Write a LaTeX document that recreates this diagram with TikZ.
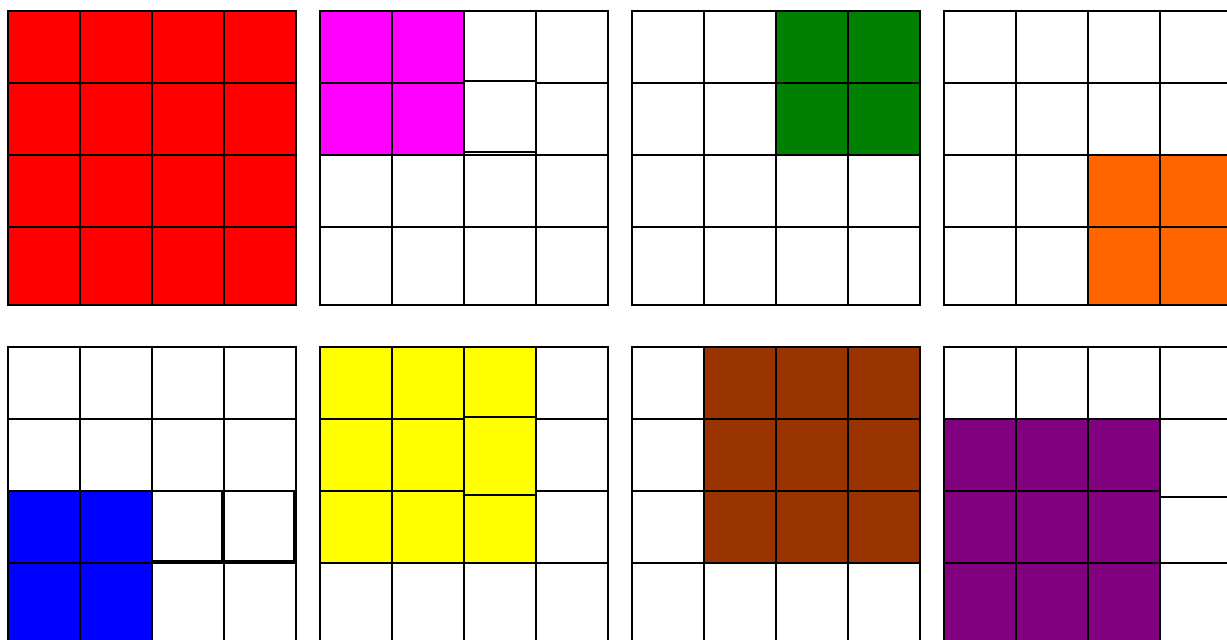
\documentclass[tikz,border=0pt]{standalone}
\usepackage{tikz}
\definecolor{tilered}{HTML}{FF0000}
\definecolor{tilemagenta}{HTML}{FF00FF}
\definecolor{tilegreen}{HTML}{008000}
\definecolor{tileorange}{HTML}{FF6600}
\definecolor{tileblue}{HTML}{0000FF}
\definecolor{tileyellow}{HTML}{FFFF00}
\definecolor{tilebrown}{HTML}{993300}
\definecolor{tilepurple}{HTML}{800080}

% one 4x4 board: origin x, origin y, colour, first/last column, first/last row of the block
\newcommand{\tileboard}[7]{%
  \foreach \c in {0,...,3} {
    \foreach \r/\top/\h in {0/0/72, 1/72/72, 2/144/72, 3/216/78} {
      \pgfmathtruncatemacro\inblk{and(and(\c>=#4,\c<=#5),and(\r>=#6,\r<=#7))}
      \ifnum\inblk=1 \def\cellfill{#3}\else\def\cellfill{white}\fi
      \draw[cell, fill=\cellfill] (#1+72*\c, #2+\top) rectangle ++(72,\h);
    }
  }%
}

\begin{document}
\begin{tikzpicture}[
    x=0.03cm, y=-0.03cm,
    cell/.style={draw=black, line width=1.7pt, line join=miter}
  ]
    \useasboundingbox[fill=white] (0,0) rectangle (1227,639);
    \clip (0,0) rectangle (1227,639);

    % top row
    \tileboard{8}{11}{tilered}{0}{3}{0}{3}
    \tileboard{320}{11}{tilemagenta}{0}{1}{0}{1}
    \tileboard{632}{11}{tilegreen}{2}{3}{0}{1}
    \tileboard{944}{11}{tileorange}{2}{3}{2}{3}

    % bottom row
    \tileboard{8}{347}{tileblue}{0}{1}{2}{3}
    \tileboard{320}{347}{tileyellow}{0}{2}{0}{2}
    \tileboard{632}{347}{tilebrown}{1}{3}{0}{2}
    \tileboard{944}{347}{tilepurple}{0}{2}{1}{3}

    % cells that sit a little off the grid
    \draw[cell, fill=white] (464,81) rectangle (536,152);
    \draw[cell, fill=white] (152,491) rectangle (222,561);
    \draw[cell, fill=white] (224,491) rectangle (294,561);
    \draw[cell, fill=tileyellow] (464,417) rectangle (536,495);
    \draw[cell, fill=tileyellow] (464,495) rectangle (536,563);
    \draw[cell, fill=white] (1160,419) rectangle (1232,497);
    \draw[cell, fill=white] (1160,497) rectangle (1232,563);
  \end{tikzpicture}
\end{document}
